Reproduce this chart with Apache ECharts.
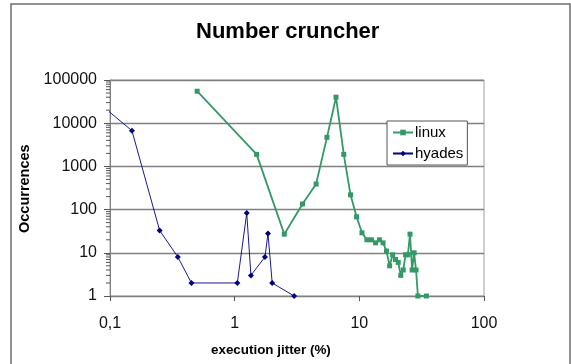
<!DOCTYPE html>
<html>
<head>
<meta charset="utf-8">
<script src="https://cdn.jsdelivr.net/npm/echarts@6/dist/echarts.min.js"></script>
<style>
  html, body { margin: 0; padding: 0; background: #fff; }
  #main { width: 571px; height: 364px; }
</style>
</head>
<body>
<div id="main"></div>
<script>
var chartDom = document.getElementById('main');
var myChart = echarts.init(chartDom);

// linux measurements
var linuxX = [0.5, 1.5, 2.5, 3.5, 4.5, 5.5, 6.5, 7.5, 8.5, 9.5, 10.5, 11.5, 12.5, 13.5, 14.5, 15.5,
  16.5, 17.5, 18.5, 19.5, 20.5, 21.5, 22.5, 23.5, 24.5, 25.5, 26.5, 27.5, 28.5, 29.5, 34.5];
var linuxY = [55000, 1900, 27, 135, 390, 4700, 40000, 1900, 220, 68, 29, 20, 20, 17, 20, 17,
  11, 5, 9, 7, 6, 3, 4, 9, 9, 27, 4, 10, 4, 1, 1];

// hyades measurements
var hyadesX = [0.05, 0.15, 0.25, 0.35, 0.45, 1.05, 1.25, 1.35, 1.75, 1.85, 2, 3];
var hyadesY = [95000, 6700, 33, 8, 2, 2, 83, 3, 8, 28, 2, 1];

// axes
var xMin = 0.1, xMax = 100;
var yMin = 1, yMax = 100000;

var mainColor = '#339966';
var hyadesColor = '#000080';
var gridColor = '#808080';

function zip(xs, ys) {
  var out = [];
  for (var i = 0; i < xs.length; i++) out.push([xs[i], ys[i]]);
  return out;
}

// minor ticks on the log y axis (2..9 of every decade)
var minorTicks = [];
for (var d = yMin; d < yMax; d *= 10) {
  for (var k = 2; k <= 9; k++) minorTicks.push([xMin, d * k]);
}

var option = {
  animation: false,
  textStyle: { fontFamily: 'Liberation Sans, Arial, sans-serif' },
  graphic: [
    {
      type: 'rect',
      shape: { x: 11, y: 4, width: 559, height: 380 },
      style: { fill: 'none', stroke: '#6e6e6e', lineWidth: 1.5 },
      silent: true
    },
    {
      type: 'text', left: 196, top: 21,
      style: { text: 'Number cruncher', font: 'bold 22px "Liberation Sans", Arial', fill: '#000' }
    },
    {
      type: 'text', left: 211, top: 344,
      style: { text: 'execution jitter (%)', font: 'bold 13.4px "Liberation Sans", Arial', fill: '#000' }
    },
    {
      type: 'text', x: 17, y: 233, rotation: Math.PI / 2,
      style: { text: 'Occurrences', font: 'bold 14.5px "Liberation Sans", Arial', fill: '#000' }
    }
  ],
  legend: {
    data: ['linux', 'hyades'],
    orient: 'vertical',
    left: 387, top: 121,
    padding: [4, 4, 4, 5],
    itemWidth: 20, itemHeight: 7, itemGap: 6,
    borderColor: '#555', borderWidth: 1, borderRadius: 0,
    backgroundColor: '#fff',
    textStyle: { fontSize: 15, color: '#000', padding: [0, 0, 0, -3] }
  },
  grid: {
    left: 110, right: 87, top: 80, bottom: 68,
    show: true, borderColor: '#a0a0a0', borderWidth: 1
  },
  xAxis: {
    type: 'log', logBase: 10, min: xMin, max: xMax, interval: 1,
    axisLine: { lineStyle: { color: gridColor } },
    axisTick: { show: true, inside: false, length: 5, lineStyle: { color: '#555' } },
    axisLabel: {
      margin: 20, fontSize: 16, color: '#111',
      formatter: function (v) { return String(v).replace('.', ','); }
    },
    splitLine: { show: false }
  },
  yAxis: {
    type: 'log', logBase: 10, min: yMin, max: yMax, interval: 1,
    axisLine: { show: true, lineStyle: { color: gridColor } },
    axisTick: { show: true, inside: false, length: 6, lineStyle: { color: '#555' } },
    axisLabel: {
      margin: 13, fontSize: 16, color: '#111',
      formatter: function (v) { return String(Math.round(v)); }
    },
    splitLine: { show: true, lineStyle: { color: gridColor, width: 1.3 } }
  },
  series: [
    {
      name: 'linux', type: 'line', data: zip(linuxX, linuxY),
      symbol: 'rect', symbolSize: 5, showSymbol: true,
      lineStyle: { color: mainColor, width: 1.8 },
      itemStyle: { color: mainColor },
      clip: true, z: 3
    },
    {
      name: 'hyades', type: 'line', data: zip(hyadesX, hyadesY),
      symbol: 'diamond', symbolSize: 6, showSymbol: true,
      lineStyle: { color: hyadesColor, width: 0.9 },
      itemStyle: { color: hyadesColor },
      clip: true, z: 2
    },
    {
      name: 'minor', type: 'custom', data: minorTicks, silent: true,
      clip: false, z: 1,
      renderItem: function (params, api) {
        var p = api.coord([api.value(0), api.value(1)]);
        return {
          type: 'line',
          shape: { x1: p[0] - 4, y1: p[1], x2: p[0], y2: p[1] },
          style: { stroke: '#555', lineWidth: 1 }
        };
      }
    }
  ]
};

myChart.setOption(option);
</script>
</body>
</html>
